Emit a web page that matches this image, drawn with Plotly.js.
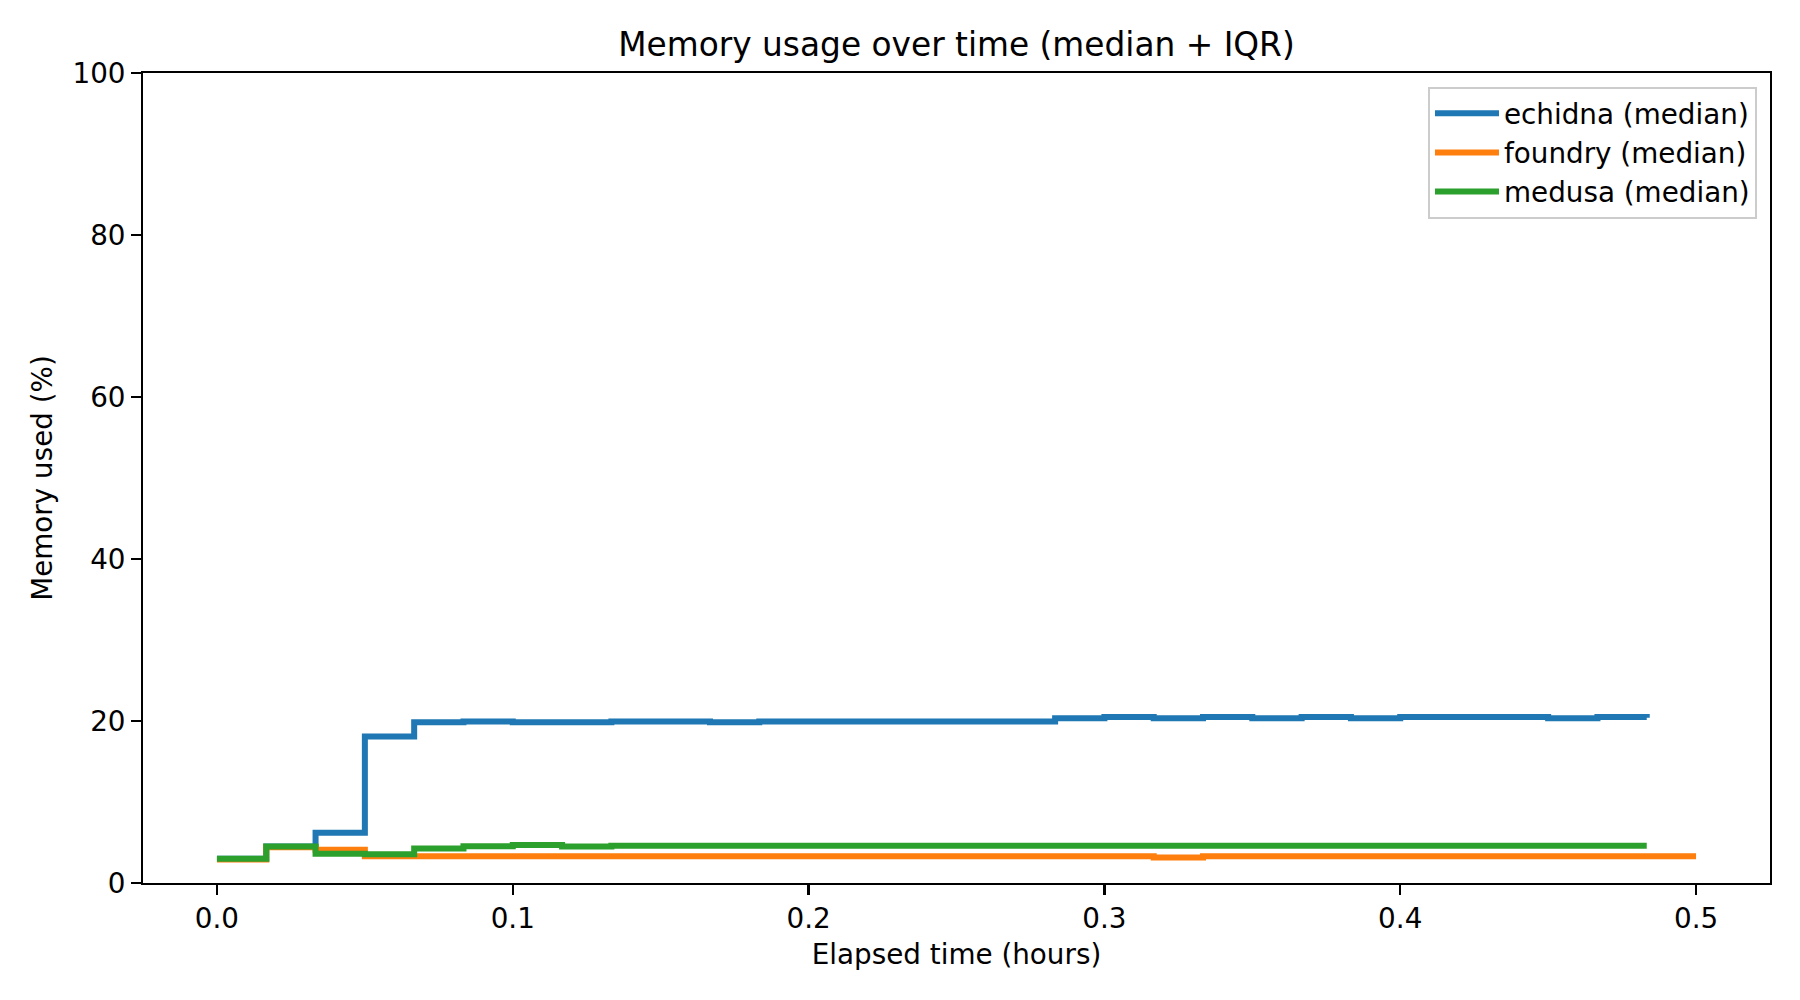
<!DOCTYPE html>
<html>
<head>
<meta charset="utf-8">
<script src="https://cdn.plot.ly/plotly-3.0.1.min.js"></script>
<style>
  html, body { margin: 0; padding: 0; background: #fff; }
  #chart { width: 1800px; height: 1000px; }
</style>
</head>
<body>
<div id="chart"></div>
<script>
// sample times, in minutes since start
var minutes = [0, 1, 2, 3, 4, 5, 6, 7, 8, 9, 10, 11, 12, 13, 14, 15,
               16, 17, 18, 19, 20, 21, 22, 23, 24, 25, 26, 27, 28, 29, 30];

// median memory used (%)
var echidna = [3.0, 4.5, 6.2, 18.1, 19.85, 19.95, 19.85, 19.85, 19.95, 19.95,
               19.85, 19.95, 19.95, 19.95, 19.95, 19.95, 19.95, 20.35, 20.5, 20.35,
               20.5, 20.35, 20.5, 20.35, 20.5, 20.5, 20.5, 20.35, 20.5, 20.4];
var foundry = [2.9, 4.4, 4.1, 3.3, 3.3, 3.3, 3.3, 3.3, 3.3, 3.3,
               3.3, 3.3, 3.3, 3.3, 3.3, 3.3, 3.3, 3.3, 3.3, 3.15,
               3.3, 3.3, 3.3, 3.3, 3.3, 3.3, 3.3, 3.3, 3.3, 3.3, 3.3];
var medusa = [3.0, 4.5, 3.6, 3.55, 4.25, 4.55, 4.7, 4.5, 4.6, 4.6,
              4.6, 4.6, 4.6, 4.6, 4.6, 4.6, 4.6, 4.6, 4.6, 4.6,
              4.6, 4.6, 4.6, 4.6, 4.6, 4.6, 4.6, 4.6, 4.6, 4.6];

var names = ['echidna (median)', 'foundry (median)', 'medusa (median)'];
var colors = ['#1f77b4', '#ff7f0e', '#2ca02c'];
var xTicks = [0, 0.1, 0.2, 0.3, 0.4, 0.5];
var yTicks = [0, 20, 40, 60, 80, 100];

function hours(n) {
    return minutes.slice(0, n).map(function (m) { return m / 60; });
}

var series = [echidna, foundry, medusa];
var data = series.map(function (ys, i) {
    return {
        x: hours(ys.length),
        y: ys,
        mode: 'lines',
        name: names[i],
        line: { color: colors[i], width: 6, shape: 'hv' }
    };
});

var font = "'DejaVu Sans', 'Liberation Sans', sans-serif";

var axisStyle = {
    showgrid: false,
    zeroline: false,
    showline: true,
    mirror: true,
    linecolor: '#000',
    linewidth: 2.2,
    ticks: 'outside',
    ticklen: 9.7,
    tickwidth: 2.2,
    tickcolor: '#000',
    tickfont: { family: font, size: 27.8, color: '#000' }
};

var layout = {
    width: 1800,
    height: 1000,
    paper_bgcolor: '#fff',
    plot_bgcolor: '#fff',
    margin: { l: 143, r: 30, t: 73, b: 117 },
    font: { family: font, color: '#000' },
    title: {
        text: 'Memory usage over time (median + IQR)',
        font: { family: font, size: 32.8, color: '#000' },
        x: 0.5, xref: 'paper', xanchor: 'center',
        y: 0.955, yref: 'container', yanchor: 'middle'
    },
    xaxis: Object.assign({}, axisStyle, {
        range: [-0.025, 0.525],
        tickvals: xTicks,
        tickformat: '.1f',
        title: { text: 'Elapsed time (hours)', font: { family: font, size: 27.8, color: '#000' }, standoff: 10 }
    }),
    yaxis: Object.assign({}, axisStyle, {
        range: [0, 100],
        tickvals: yTicks,
        title: { text: 'Memory used (%)', font: { family: font, size: 27.8, color: '#000' }, standoff: 12 }
    }),
    showlegend: true,
    legend: {
        x: 0.992, y: 0.983, xanchor: 'right', yanchor: 'top',
        bgcolor: 'rgba(255,255,255,0.8)',
        bordercolor: '#cccccc',
        borderwidth: 2,
        font: { family: font, size: 27.8, color: '#000' },
        itemwidth: 64,
        tracegroupgap: 0
    }
};

Plotly.newPlot('chart', data, layout, { staticPlot: true });
</script>
</body>
</html>
